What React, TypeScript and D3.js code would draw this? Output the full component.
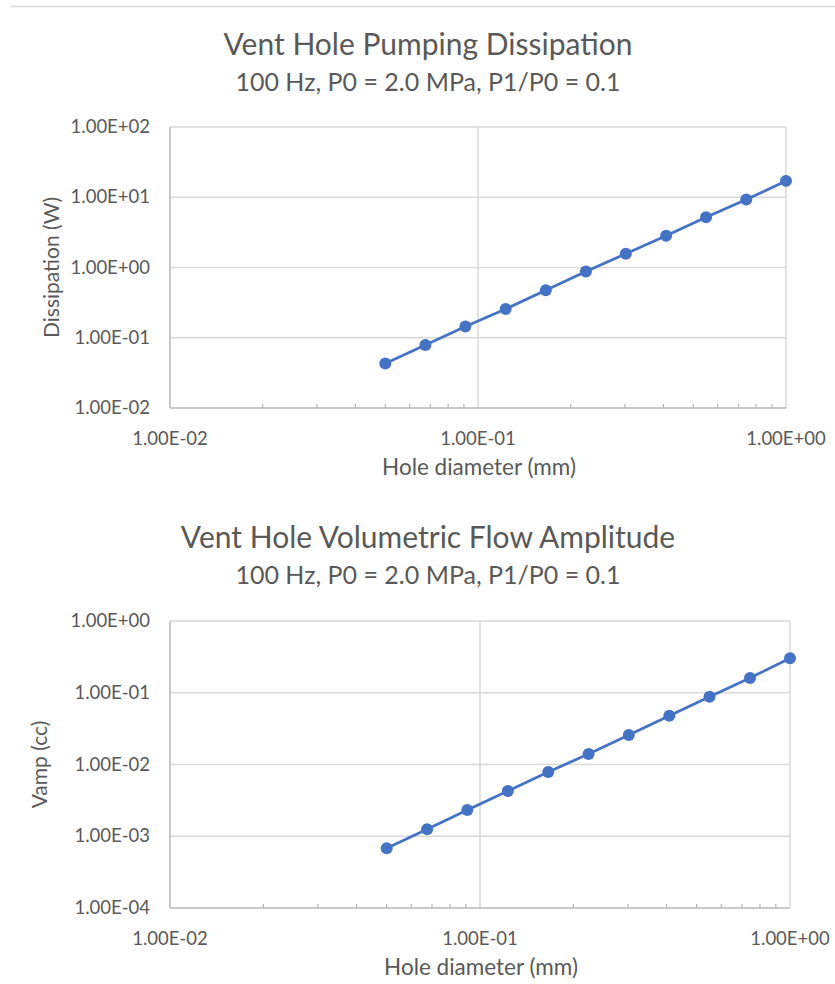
import React, { useEffect, useRef } from 'react';
import * as d3 from 'd3';

// hole diameters (mm), same for both charts
const diameters = [0.05, 0.0675, 0.091, 0.123, 0.166, 0.224, 0.302, 0.408, 0.55, 0.743, 1.0];
// dissipation (W)
const dissipation = [0.043, 0.0787, 0.145, 0.257, 0.474, 0.877, 1.57, 2.84, 5.18, 9.27, 17.1];
// volumetric flow amplitude (cc)
const vamp = [0.00068, 0.00125, 0.00232, 0.00426, 0.00789, 0.014, 0.0257, 0.0479, 0.088, 0.161, 0.303];

const xTicks = [0.01, 0.1, 1];
const yTicksTop = [0.01, 0.1, 1, 10, 100];
const yTicksBottom = [0.0001, 0.001, 0.01, 0.1, 1];

const subtitle = '100 Hz, P0 = 2.0 MPa, P1/P0 = 0.1';
const FONT = 'Lato, "Noto Sans", sans-serif';
const TEXT = '#595959';
const GRID = '#d9d9d9';
const BLUE = '#4472c4';

function sci(v: number) {
  const e = Math.round(Math.log10(v));
  return `1.00E${e < 0 ? '-' : '+'}${String(Math.abs(e)).padStart(2, '0')}`;
}

type ChartProps = {
  top: number;       // y of title baseline
  title: string;
  yTitle: string;
  yTitleX: number;
  ys: number[];
  yTicks: number[];
  plot: { left: number; right: number; top: number; bottom: number };
};

function LogChart({ top, title, yTitle, yTitleX, ys, yTicks, plot }: ChartProps) {
  const ref = useRef<SVGGElement>(null);

  useEffect(() => {
    const g = d3.select(ref.current);
    g.selectAll('*').remove();

    const x = d3.scaleLog().domain([0.01, 1]).range([plot.left, plot.right]);
    const y = d3.scaleLog().domain([yTicks[0], yTicks[yTicks.length - 1]]).range([plot.bottom, plot.top]);
    const cx = 428;

    // titles
    g.append('text').attr('x', cx).attr('y', top).attr('text-anchor', 'middle')
      .attr('font-size', 30).attr('fill', TEXT).text(title);
    g.append('text').attr('x', cx).attr('y', top + 36).attr('text-anchor', 'middle')
      .attr('font-size', 25).attr('fill', TEXT).text(subtitle);

    // horizontal gridlines
    g.selectAll('line.hgrid').data(yTicks).enter().append('line')
      .attr('x1', plot.left).attr('x2', plot.right)
      .attr('y1', d => y(d)).attr('y2', d => y(d))
      .attr('stroke', GRID).attr('stroke-width', 1.5);

    // vertical gridlines at decades
    g.selectAll('line.vgrid').data(xTicks).enter().append('line')
      .attr('x1', d => x(d)).attr('x2', d => x(d))
      .attr('y1', plot.top).attr('y2', plot.bottom)
      .attr('stroke', GRID).attr('stroke-width', 1.5);

    // minor ticks on x axis
    const minors: number[] = [];
    [0.01, 0.1].forEach(dec => d3.range(2, 10).forEach(k => minors.push(dec * k)));
    g.selectAll('line.minor').data(minors).enter().append('line')
      .attr('x1', d => x(d)).attr('x2', d => x(d))
      .attr('y1', plot.bottom - 4).attr('y2', plot.bottom)
      .attr('stroke', '#a6a6a6').attr('stroke-width', 1);

    // axis lines
    g.append('line').attr('x1', plot.left).attr('x2', plot.right)
      .attr('y1', plot.bottom).attr('y2', plot.bottom).attr('stroke', '#bfbfbf').attr('stroke-width', 1.5);
    g.append('line').attr('x1', plot.left).attr('x2', plot.left)
      .attr('y1', plot.top).attr('y2', plot.bottom).attr('stroke', '#bfbfbf').attr('stroke-width', 1.5);

    // tick labels
    g.selectAll('text.ylab').data(yTicks).enter().append('text')
      .attr('x', plot.left - 20).attr('y', d => y(d) + 6)
      .attr('text-anchor', 'end').attr('font-size', 18.5).attr('fill', TEXT)
      .text(d => sci(d));
    g.selectAll('text.xlab').data(xTicks).enter().append('text')
      .attr('x', d => x(d)).attr('y', plot.bottom + 37)
      .attr('text-anchor', 'middle').attr('font-size', 18.5).attr('fill', TEXT)
      .text(d => sci(d));

    // axis titles
    g.append('text').attr('x', (plot.left + plot.right) / 2 + 1).attr('y', plot.bottom + 67)
      .attr('text-anchor', 'middle').attr('font-size', 22.5).attr('fill', TEXT).text('Hole diameter (mm)');
    const ymid = (plot.top + plot.bottom) / 2;
    g.append('text').attr('transform', `translate(${yTitleX},${ymid}) rotate(-90)`)
      .attr('text-anchor', 'middle').attr('font-size', 21).attr('fill', TEXT).text(yTitle);

    // series
    const pts = diameters.map((d, i) => [d, ys[i]] as [number, number]);
    const line = d3.line<[number, number]>().x(d => x(d[0])).y(d => y(d[1]));
    g.append('path').datum(pts).attr('d', line).attr('fill', 'none')
      .attr('stroke', BLUE).attr('stroke-width', 2.75).attr('stroke-linejoin', 'round');
    g.selectAll('circle').data(pts).enter().append('circle')
      .attr('cx', d => x(d[0])).attr('cy', d => y(d[1])).attr('r', 6)
      .attr('fill', BLUE);
  }, [top, title, yTitle, yTitleX, ys, yTicks, plot]);

  return <g ref={ref} />;
}

const topPlot = { left: 170, right: 786, top: 127, bottom: 408 };
const bottomPlot = { left: 170, right: 790, top: 621, bottom: 908 };

export default function App() {
  return (
    <svg width={835} height={984} fontFamily={FONT}
      style={{ position: 'absolute', left: 0, top: 0, background: '#fff' }}>
      <rect width={835} height={984} fill="#fff" />
      <line x1={10} x2={835} y1={6.5} y2={6.5} stroke="#d9d9d9" strokeWidth={1.5} />
      <LogChart top={55} title="Vent Hole Pumping Dissipation" yTitle="Dissipation (W)" yTitleX={59}
        ys={dissipation} yTicks={yTicksTop} plot={topPlot} />
      <LogChart top={548} title="Vent Hole Volumetric Flow Amplitude" yTitle="Vamp (cc)" yTitleX={47}
        ys={vamp} yTicks={yTicksBottom} plot={bottomPlot} />
    </svg>
  );
}
